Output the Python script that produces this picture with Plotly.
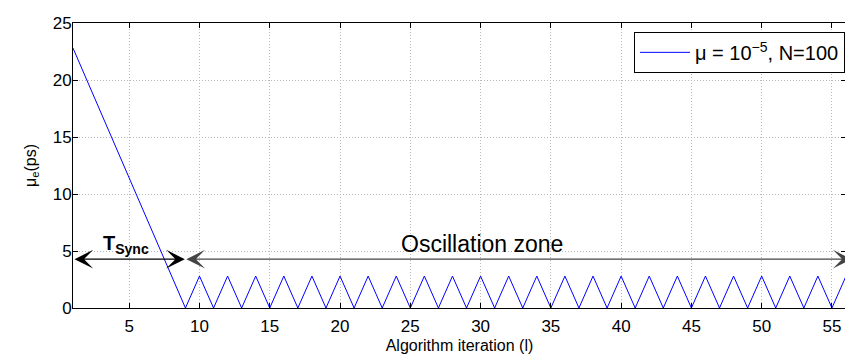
import plotly.graph_objects as go

# Data
iterations = list(range(1, 57))
sync_values = [22.8, 19.95, 17.1, 14.25, 11.4, 8.55, 5.7, 2.85, 0.0]
osc_peak = 2.8
osc_values = [osc_peak if (i % 2 == 0) else 0.0 for i in range(10, 57)]
mu_e = sync_values + osc_values

series_name = "μ = 10<sup>−5</sup>, N=100"
x_ticks = [5, 10, 15, 20, 25, 30, 35, 40, 45, 50, 55]
y_ticks = [0, 5, 10, 15, 20, 25]

arrow_y = 4.28
t_sync_start, t_sync_end = 1, 8.96
osc_end = 56.4

FONT = "Liberation Sans, Arial, sans-serif"

fig = go.Figure()
fig.add_trace(go.Scatter(x=iterations, y=mu_e, mode="lines",
                         line=dict(color="#0000ff", width=1),
                         name=series_name, showlegend=True))

font = dict(family=FONT, size=17, color="black")
title_font = dict(family=FONT, size=16, color="black")

def arrow(x0, x1, y, color):
    fig.add_annotation(x=x1, y=y, ax=x0, ay=y, xref="x", yref="y", axref="x", ayref="y",
                       showarrow=True, arrowhead=3, arrowside="end+start", arrowsize=2.4,
                       arrowwidth=1.3, arrowcolor=color, text="")

arrow(t_sync_start, t_sync_end, arrow_y, "black")
arrow(t_sync_end, osc_end, arrow_y, "#444444")

fig.add_annotation(x=4.77, y=5.6, xref="x", yref="y", showarrow=False,
                   text="<b>T<sub>Sync</sub></b>",
                   font=dict(family=FONT, size=20, color="black"))
fig.add_annotation(x=30.1, y=5.65, xref="x", yref="y", showarrow=False,
                   text="Oscillation zone",
                   font=dict(family=FONT, size=23, color="black"))

axis_common = dict(showline=True, linecolor="black", linewidth=1, mirror="ticks",
                   ticks="inside", ticklen=5, tickcolor="black",
                   showgrid=True, gridcolor="#b8b8b8", griddash="1px,2px", gridwidth=1,
                   zeroline=False, tickfont=font, ticklabeloverflow="allow")

fig.update_xaxes(range=[1, 56], tickvals=x_ticks, ticklabelstandoff=3,
                 title=dict(text="Algorithm iteration (l)", font=title_font, standoff=4),
                 **axis_common)
fig.update_yaxes(range=[0, 25], tickvals=y_ticks, ticklabelstandoff=-3,
                 title=dict(text="μ<sub>e</sub>(ps)", font=title_font, standoff=12),
                 **axis_common)

fig.update_layout(
    width=845, height=352,
    margin=dict(l=65, r=6, t=8, b=52),
    plot_bgcolor="white", paper_bgcolor="white",
    font=font,
    legend=dict(x=0.9987, y=0.969, xanchor="right", yanchor="top",
                bordercolor="black", borderwidth=1, bgcolor="white",
                itemwidth=50,
                font=dict(family=FONT, size=20, color="black")),
)

fig.write_html("out.html")
